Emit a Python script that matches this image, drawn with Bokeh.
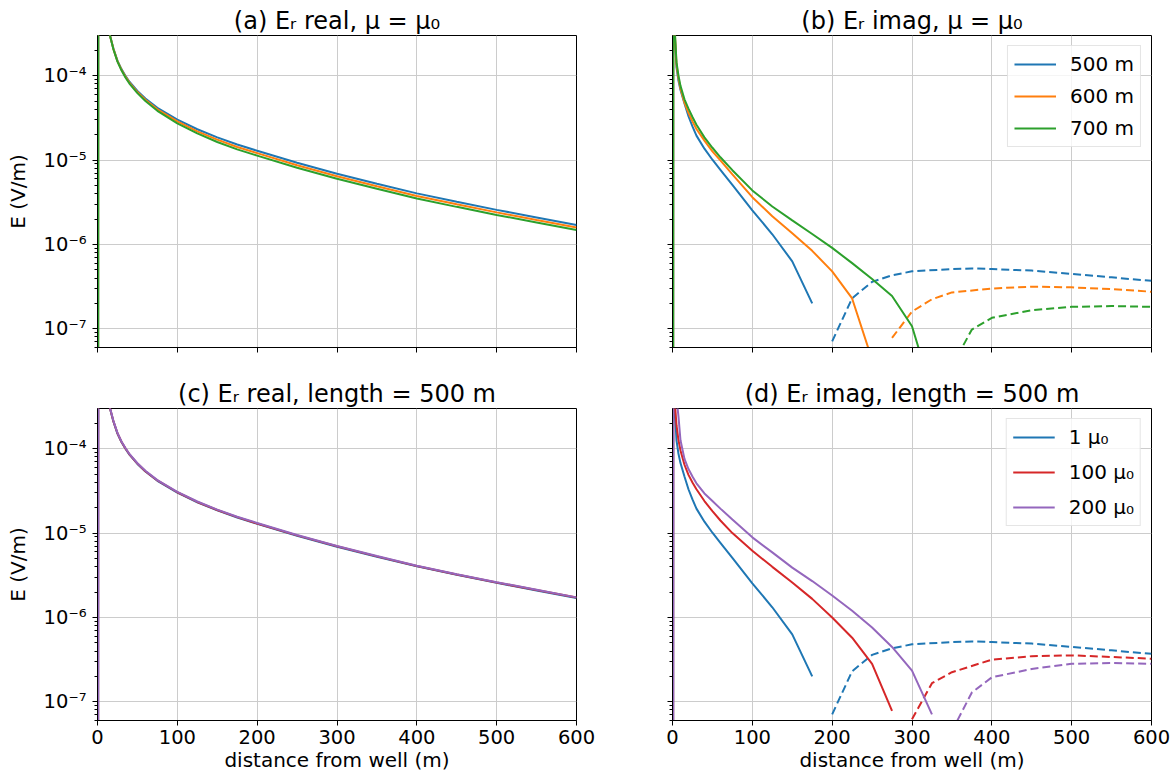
from bokeh.plotting import figure
from bokeh.models import Range1d, FixedTicker, CustomJSTickFormatter
from bokeh.layouts import column, row
from bokeh.embed import file_html
from bokeh.resources import INLINE

# ---------------- data ----------------
x_ticks = [0, 100, 200, 300, 400, 500, 600]
y_major = [1e-7, 1e-6, 1e-5, 1e-4]

# real part
x_real = [0, 1, 5, 10, 15, 20, 25, 30, 35, 40, 50, 60, 75, 100, 125, 150, 175,
          200, 250, 300, 350, 400, 450, 500, 550, 600]
re_500 = [1e-30, 1e-2, 2.0e-3, 6.3e-4, 3.16e-4, 2.09e-4, 1.51e-4, 1.20e-4, 1.0e-4, 8.5e-5,
          6.6e-5, 5.37e-5, 4.17e-5, 3.02e-5, 2.32e-5, 1.86e-5, 1.53e-5, 1.29e-5, 9.3e-6,
          6.9e-6, 5.25e-6, 4.03e-6, 3.2e-6, 2.57e-6, 2.09e-6, 1.70e-6]
re_600 = [1e-30, 1e-2, 2.0e-3, 6.3e-4, 3.16e-4, 2.07e-4, 1.49e-4, 1.18e-4, 9.77e-5, 8.29e-5,
          6.4e-5, 5.19e-5, 4.0e-5, 2.87e-5, 2.19e-5, 1.75e-5, 1.43e-5, 1.21e-5, 8.68e-6,
          6.44e-6, 4.9e-6, 3.76e-6, 2.99e-6, 2.4e-6, 1.95e-6, 1.59e-6]
re_700 = [1e-30, 1e-2, 2.0e-3, 6.3e-4, 3.16e-4, 2.05e-4, 1.47e-4, 1.16e-4, 9.55e-5, 8.08e-5,
          6.22e-5, 5.01e-5, 3.84e-5, 2.73e-5, 2.07e-5, 1.64e-5, 1.34e-5, 1.13e-5, 8.1e-6,
          6.01e-6, 4.57e-6, 3.51e-6, 2.79e-6, 2.24e-6, 1.82e-6, 1.48e-6]
re_1mu = re_500
re_100mu = [1e-30, 1e-2, 2.0e-3, 6.3e-4, 3.19e-4, 2.11e-4, 1.525e-4, 1.21e-4, 1.01e-4, 8.59e-5,
            6.67e-5, 5.42e-5, 4.21e-5, 3.05e-5, 2.34e-5, 1.88e-5, 1.545e-5, 1.30e-5, 9.39e-6,
            6.97e-6, 5.3e-6, 4.07e-6, 3.23e-6, 2.6e-6, 2.11e-6, 1.72e-6]
re_200mu = [1e-30, 1e-2, 2.0e-3, 6.3e-4, 3.22e-4, 2.13e-4, 1.54e-4, 1.22e-4, 1.02e-4, 8.67e-5,
            6.73e-5, 5.48e-5, 4.25e-5, 3.08e-5, 2.37e-5, 1.9e-5, 1.56e-5, 1.32e-5, 9.49e-6,
            7.04e-6, 5.36e-6, 4.11e-6, 3.26e-6, 2.62e-6, 2.13e-6, 1.73e-6]

# imaginary part: positive values (solid) and magnitude of negative values (dashed)
x_im_500_pos = [0, 1, 2.5, 5, 7.5, 10, 15, 20, 25, 30, 40, 50, 60, 75, 100, 125, 150, 175]
im_500_pos = [1e-30, 1.6e-3, 3.5e-4, 1.26e-4, 8.7e-5, 6.76e-5, 4.68e-5, 3.31e-5, 2.51e-5,
              1.95e-5, 1.365e-5, 1.01e-5, 7.67e-6, 5.07e-6, 2.54e-6, 1.32e-6, 6.3e-7, 2.0e-7]
x_im_500_neg = [200, 225, 250, 275, 300, 350, 375, 400, 450, 500, 550, 600]
im_500_neg = [7.1e-8, 2.3e-7, 3.6e-7, 4.3e-7, 4.8e-7, 5.1e-7, 5.2e-7, 5.1e-7, 4.9e-7,
              4.47e-7, 4.07e-7, 3.7e-7]

x_im_600_pos = [0, 1, 2.5, 5, 7.5, 10, 15, 20, 25, 30, 40, 50, 60, 75, 100, 125, 150, 175,
                200, 225, 250]
im_600_pos = [1e-30, 1.6e-3, 3.8e-4, 1.35e-4, 9.3e-5, 7.08e-5, 4.79e-5, 3.63e-5, 2.88e-5,
              2.34e-5, 1.70e-5, 1.27e-5, 9.9e-6, 6.76e-6, 3.63e-6, 2.16e-6, 1.36e-6, 8.4e-7,
              4.8e-7, 2.29e-7, 4.3e-8]
x_im_600_neg = [275, 300, 325, 350, 400, 450, 500, 550, 600]
im_600_neg = [7.8e-8, 1.6e-7, 2.24e-7, 2.7e-7, 3.0e-7, 3.16e-7, 3.1e-7, 2.95e-7, 2.75e-7]

x_im_700_pos = [0, 1, 2.5, 5, 7.5, 10, 15, 20, 25, 30, 40, 50, 60, 75, 100, 125, 150, 175,
                200, 225, 250, 275, 300, 325]
im_700_pos = [1e-30, 1.6e-3, 4.0e-4, 1.45e-4, 1.0e-4, 7.59e-5, 5.25e-5, 4.07e-5, 3.24e-5,
              2.63e-5, 1.86e-5, 1.40e-5, 1.08e-5, 7.59e-6, 4.37e-6, 2.82e-6, 1.93e-6, 1.33e-6,
              9.1e-7, 6.0e-7, 3.9e-7, 2.45e-7, 1.07e-7, 1.78e-8]
x_im_700_neg = [350, 375, 400, 450, 500, 550, 600]
im_700_neg = [3.6e-8, 9.8e-8, 1.35e-7, 1.66e-7, 1.82e-7, 1.86e-7, 1.82e-7]

x_im_1mu_pos, im_1mu_pos = x_im_500_pos, im_500_pos
x_im_1mu_neg, im_1mu_neg = x_im_500_neg, im_500_neg

x_im_100mu_pos = [0, 1, 2.5, 5, 7.5, 10, 15, 20, 25, 30, 40, 50, 60, 75, 100, 125, 150, 175,
                  200, 225, 250, 275]
im_100mu_pos = [1e-30, 2.5e-3, 4.0e-4, 1.9e-4, 1.26e-4, 9.55e-5, 6.46e-5, 4.9e-5, 3.98e-5,
                3.31e-5, 2.4e-5, 1.82e-5, 1.41e-5, 1.0e-5, 6.17e-6, 3.98e-6, 2.6e-6, 1.66e-6,
                1.0e-6, 5.75e-7, 2.82e-7, 7.8e-8]
x_im_100mu_neg = [300, 325, 350, 400, 450, 500, 550, 600]
im_100mu_neg = [6.2e-8, 1.66e-7, 2.24e-7, 3.16e-7, 3.47e-7, 3.55e-7, 3.4e-7, 3.24e-7]

x_im_200mu_pos = [0, 1, 2.5, 5, 7.5, 10, 15, 20, 25, 30, 40, 50, 60, 75, 100, 125, 150, 175,
                  200, 225, 250, 275, 300, 325]
im_200mu_pos = [1e-30, 3.2e-3, 1.0e-3, 4.0e-4, 2.4e-4, 1.26e-4, 7.59e-5, 5.75e-5, 4.68e-5,
                3.89e-5, 2.95e-5, 2.4e-5, 1.95e-5, 1.445e-5, 8.9e-6, 5.9e-6, 3.9e-6, 2.7e-6,
                1.82e-6, 1.2e-6, 7.6e-7, 4.47e-7, 2.34e-7, 7.1e-8]
x_im_200mu_neg = [350, 375, 400, 450, 500, 550, 600]
im_200mu_neg = [4.5e-8, 1.29e-7, 1.95e-7, 2.45e-7, 2.82e-7, 2.88e-7, 2.82e-7]

labels_len = ["500 m", "600 m", "700 m"]
labels_mu = ["1 μ₀", "100 μ₀", "200 μ₀"]

# ---------------- styling ----------------
FONT = "DejaVu Sans"
BLUE, ORANGE, GREEN, RED, PURPLE = "#1f77b4", "#ff7f0e", "#2ca02c", "#d62728", "#9467bd"
y_minor = [m * 10.0 ** e for e in range(-8, -3) for m in range(2, 10)]

sup_fmt = CustomJSTickFormatter(code="""
const sup = {"-":"\u207b","0":"\u2070","1":"\u00b9","2":"\u00b2","3":"\u00b3","4":"\u2074",
             "5":"\u2075","6":"\u2076","7":"\u2077","8":"\u2078","9":"\u2079"};
const e = Math.round(Math.log10(tick));
return "10" + String(e).split("").map(c => sup[c]).join("");
""")


def make_fig(title, xlab, ylab, top, bottom, left, right):
    p = figure(frame_width=479, frame_height=312, x_range=Range1d(0, 600),
               y_range=Range1d(6e-8, 3e-4), y_axis_type="log",
               output_backend="svg", toolbar_location=None,
               min_border_top=top, min_border_bottom=bottom,
               min_border_left=left, min_border_right=right)
    p.title.text = title
    p.title.align = "center"
    p.title.text_font = FONT
    p.title.text_font_size = "24px"
    p.title.text_font_style = "normal"
    p.title.text_color = "black"
    p.title.standoff = 2
    p.outline_line_color = "black"
    p.outline_line_width = 1
    p.outline_line_alpha = 1

    xa = p.xaxis[0]
    xa.ticker = FixedTicker(ticks=x_ticks)
    xa.major_tick_out = 5
    xa.major_tick_in = 0
    xa.minor_tick_out = 0
    xa.axis_line_color = "black"
    xa.major_tick_line_color = "black"
    xa.major_label_text_font = FONT
    xa.major_label_text_color = "black"
    xa.major_label_standoff = 4
    if xlab:
        xa.major_label_text_font_size = "19.5px"
        xa.axis_label = "distance from well (m)"
        xa.axis_label_text_font = FONT
        xa.axis_label_text_font_size = "20px"
        xa.axis_label_text_font_style = "normal"
        xa.axis_label_text_color = "black"
        xa.axis_label_standoff = 1
    else:
        xa.major_label_text_font_size = "0px"

    ya = p.yaxis[0]
    ya.ticker = FixedTicker(ticks=y_major, minor_ticks=y_minor)
    ya.formatter = sup_fmt
    ya.major_tick_out = 5
    ya.major_tick_in = 0
    ya.minor_tick_out = 3
    ya.minor_tick_in = 0
    ya.axis_line_color = "black"
    ya.major_tick_line_color = "black"
    ya.minor_tick_line_color = "black"
    ya.major_label_text_font = FONT
    ya.major_label_text_color = "black"
    ya.major_label_standoff = 6
    if ylab:
        ya.major_label_text_font_size = "19.5px"
        ya.axis_label = "E (V/m)"
        ya.axis_label_text_font = FONT
        ya.axis_label_text_font_size = "20px"
        ya.axis_label_text_font_style = "normal"
        ya.axis_label_text_color = "black"
        ya.axis_label_standoff = 11
    else:
        ya.major_label_text_font_size = "0px"

    for g in (p.xgrid[0], p.ygrid[0]):
        g.grid_line_color = "#cccccc"
        g.grid_line_width = 1
    p.ygrid[0].ticker = FixedTicker(ticks=y_major)
    p.xgrid[0].ticker = FixedTicker(ticks=x_ticks)
    return p


def style_legend(p, spacing):
    lg = p.legend[0]
    lg.location = "top_right"
    lg.margin = 10
    lg.padding = 6
    lg.spacing = spacing
    lg.glyph_width = 42
    lg.glyph_height = 20
    lg.label_standoff = 14
    lg.label_text_font = FONT
    lg.label_text_font_size = "20px"
    lg.label_text_color = "black"
    lg.border_line_color = "#cccccc"
    lg.border_line_width = 1
    lg.background_fill_alpha = 0.8


LW = 2
DASH = "8 4"

pa = make_fig("(a) Eᵣ real, μ = μ₀", False, True, 35, 20, 97, 40)
for ys, c in ((re_500, BLUE), (re_600, ORANGE), (re_700, GREEN)):
    pa.line(x_real, ys, line_color=c, line_width=LW)

pb = make_fig("(b) Eᵣ imag, μ = μ₀", False, False, 35, 20, 56, 25)
series_b = [
    (x_im_500_pos, im_500_pos, x_im_500_neg, im_500_neg, BLUE, labels_len[0]),
    (x_im_600_pos, im_600_pos, x_im_600_neg, im_600_neg, ORANGE, labels_len[1]),
    (x_im_700_pos, im_700_pos, x_im_700_neg, im_700_neg, GREEN, labels_len[2]),
]
for xp, yp, xn, yn, c, lab in series_b:
    pb.line(xp, yp, line_color=c, line_width=LW, legend_label=lab)
    pb.line(xn, yn, line_color=c, line_width=LW, line_dash=DASH)
style_legend(pb, 8)

pc = make_fig("(c) Eᵣ real, length = 500 m", True, True, 41, 57, 97, 40)
for ys, c in ((re_1mu, BLUE), (re_100mu, RED), (re_200mu, PURPLE)):
    pc.line(x_real, ys, line_color=c, line_width=LW)

pd_ = make_fig("(d) Eᵣ imag, length = 500 m", True, False, 41, 57, 56, 25)
series_d = [
    (x_im_1mu_pos, im_1mu_pos, x_im_1mu_neg, im_1mu_neg, BLUE, labels_mu[0]),
    (x_im_100mu_pos, im_100mu_pos, x_im_100mu_neg, im_100mu_neg, RED, labels_mu[1]),
    (x_im_200mu_pos, im_200mu_pos, x_im_200mu_neg, im_200mu_neg, PURPLE, labels_mu[2]),
]
for xp, yp, xn, yn, c, lab in series_d:
    pd_.line(xp, yp, line_color=c, line_width=LW, legend_label=lab)
    pd_.line(xn, yn, line_color=c, line_width=LW, line_dash=DASH)
style_legend(pd_, 11)

layout = column(row(pa, pb), row(pc, pd_))
open("out.html", "w").write(file_html(layout, INLINE))
